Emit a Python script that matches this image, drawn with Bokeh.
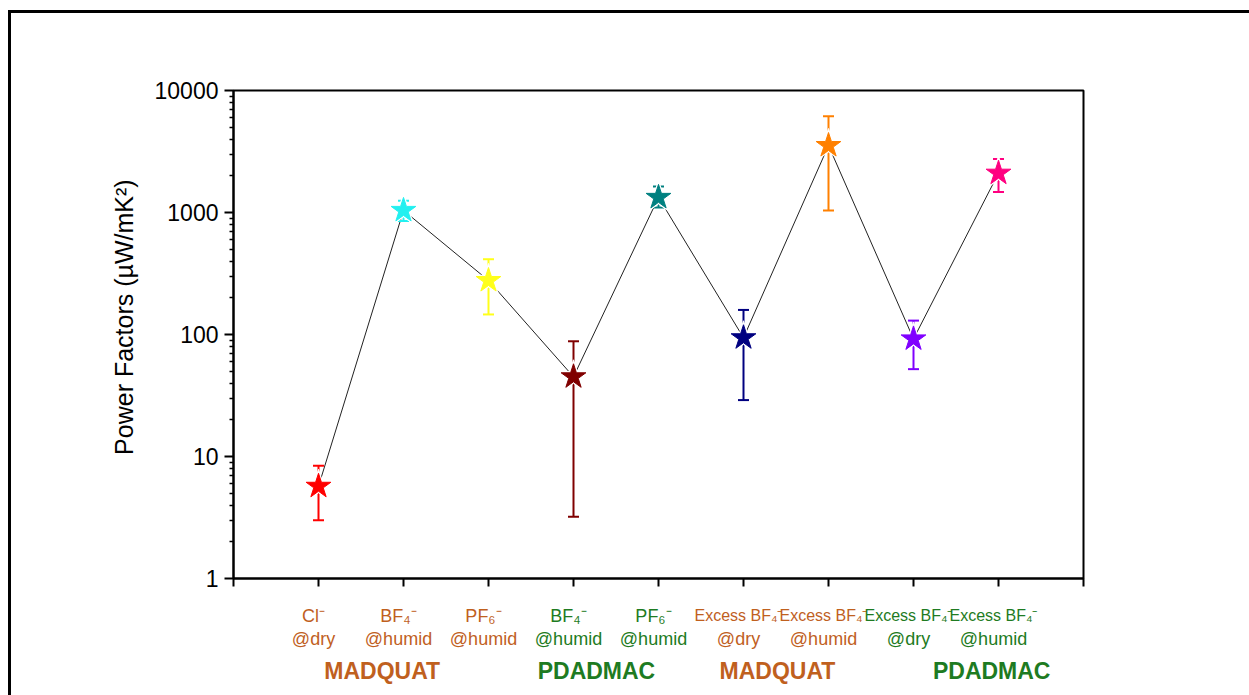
from bokeh.plotting import figure
from bokeh.layouts import column, row
from bokeh.models import FixedTicker, PrintfTickFormatter, ColumnDataSource, Range1d, Div
from bokeh.core.properties import value
from bokeh.embed import file_html
from bokeh.resources import INLINE

# ---------------- data ----------------
x_pos = [1, 2, 3, 4, 5, 6, 7, 8, 9]
label_line1 = ["Cl\u207b", "BF\u2084\u207b", "PF\u2086\u207b", "BF\u2084\u207b", "PF\u2086\u207b",
               "Excess BF\u2084\u207b", "Excess BF\u2084\u207b", "Excess BF\u2084\u207b", "Excess BF\u2084\u207b"]
label_line2 = ["@dry", "@humid", "@humid", "@humid", "@humid",
               "@dry", "@humid", "@dry", "@humid"]
label_group = ["MADQUAT", "MADQUAT", "MADQUAT", "PDADMAC", "PDADMAC",
               "MADQUAT", "MADQUAT", "PDADMAC", "PDADMAC"]
power_factor = [5.7, 1040, 277, 45, 1330, 94, 3540, 92, 2100]
err_upper = [8.4, 1250, 414, 88, 1630, 159, 6150, 130, 2750]
err_lower = [3.0, 850, 146, 3.2, 1100, 29, 1040, 52, 1470]
marker_colors = ["#FF0000", "#22F0F0", "#FFFF1A", "#800000", "#008080",
                 "#000080", "#FF8000", "#8000FF", "#FF0080"]
group_names = ["MADQUAT", "PDADMAC", "MADQUAT", "PDADMAC"]
group_centers = [1.75, 4.27, 6.4, 8.92]
group_colors = {"MADQUAT": "#C0601E", "PDADMAC": "#1E7B22"}
y_ticks = [1, 10, 100, 1000, 10000]
y_minor = [m * 10 ** e for e in range(4) for m in range(2, 10)]

FONT = "Liberation Sans"
W = 1238

p = figure(width=W, height=585, x_range=(0, 10), y_range=(1, 10000),
           y_axis_type="log", output_backend="svg", toolbar_location=None,
           min_border_left=222, min_border_right=166, min_border_top=77,
           min_border_bottom=20)
p.background_fill_color = "white"
p.border_fill_color = "white"
p.xgrid.visible = False
p.ygrid.visible = False
p.outline_line_color = "black"
p.outline_line_width = 2
p.outline_line_alpha = 1

# x axis
p.xaxis.ticker = FixedTicker(ticks=list(range(0, 11)))
p.xaxis.major_label_overrides = {i: "" for i in range(0, 11)}
p.xaxis.major_label_text_font_size = "1px"
p.xaxis.major_label_standoff = 0
p.xaxis.major_tick_out = 8
p.xaxis.major_tick_in = 0
p.xaxis.minor_tick_line_color = None
p.xaxis.axis_line_width = 2
p.xaxis.major_tick_line_width = 2

# y axis
p.yaxis.ticker = FixedTicker(ticks=y_ticks, minor_ticks=y_minor)
p.yaxis.formatter = PrintfTickFormatter(format="%d")
p.yaxis.major_tick_out = 9
p.yaxis.major_tick_in = 0
p.yaxis.minor_tick_out = 4
p.yaxis.minor_tick_in = 0
p.yaxis.axis_line_width = 2
p.yaxis.major_tick_line_width = 2
p.yaxis.minor_tick_line_width = 1.5
p.yaxis.major_label_text_font = FONT
p.yaxis.major_label_text_font_size = "23px"
p.yaxis.major_label_text_color = "black"
p.yaxis.major_label_standoff = 6
p.yaxis.axis_label = "\u00a0" * 5 + "Power Factors (\u00b5W/mK\u00b2)"
p.yaxis.axis_label_text_font = FONT
p.yaxis.axis_label_text_font_size = "25px"
p.yaxis.axis_label_text_font_style = "normal"
p.yaxis.axis_label_text_color = "black"
p.yaxis.axis_label_standoff = 14

src = ColumnDataSource(dict(x=x_pos, y=power_factor, upper=err_upper,
                            lower=err_lower, color=marker_colors))

p.line("x", "y", source=src, line_color="#222222", line_width=1)
p.segment(x0="x", y0="lower", x1="x", y1="upper", line_color="color",
          line_width=2, source=src)
p.scatter("x", "upper", marker="dash", size=11, line_color="color",
          line_width=2, source=src)
p.scatter("x", "lower", marker="dash", size=11, line_color="color",
          line_width=2, source=src)
p.scatter("x", "y", marker="star", size=34, fill_color="white",
          line_color="white", source=src)
p.scatter("x", "y", marker="star", size=26, fill_color="color",
          line_color="color", source=src)

# ---------------- category labels strip ----------------
p2 = figure(width=W, height=97, x_range=p.x_range, y_range=Range1d(0, 97),
            output_backend="svg", toolbar_location=None,
            x_axis_location=None, y_axis_location=None,
            min_border_left=222, min_border_right=166, min_border_top=0,
            min_border_bottom=0)
p2.xgrid.visible = False
p2.ygrid.visible = False
p2.outline_line_color = None
p2.background_fill_color = "white"
p2.border_fill_color = "white"

lab_colors = [group_colors[g] for g in label_group]
short_idx = [i for i, t in enumerate(label_line1) if not t.startswith("Excess")]
long_idx = [i for i, t in enumerate(label_line1) if t.startswith("Excess")]

for idx, fs in ((short_idx, "18px"), (long_idx, "16px")):
    s = ColumnDataSource(dict(x=[x_pos[i] for i in idx],
                              t=[label_line1[i] for i in idx],
                              c=[lab_colors[i] for i in idx],
                              y=[80] * len(idx)))
    p2.text(x="x", y="y", text="t", text_color="c", source=s,
            text_font=value(FONT), text_font_size=fs, x_offset=-5,
            text_align="center", text_baseline="middle")

lab_src = ColumnDataSource(dict(x=x_pos, l2=label_line2, c=lab_colors,
                                y2=[57] * len(x_pos)))
p2.text(x="x", y="y2", text="l2", text_color="c", source=lab_src,
        text_font=value(FONT), text_font_size="18px", x_offset=-5,
        text_align="center", text_baseline="middle")
grp_src = ColumnDataSource(dict(x=group_centers, t=group_names,
                                c=[group_colors[g] for g in group_names],
                                y=[25] * len(group_names)))
p2.text(x="x", y="y", text="t", text_color="c", source=grp_src,
        text_font=value(FONT), text_font_size="23px", text_font_style="bold",
        text_align="center", text_baseline="middle")

# page frame: black top and left rules
top_rule = Div(text="", width=W + 3, height=3, margin=(10, 0, 0, 8),
               styles={"background-color": "black"})
left_rule = Div(text="", width=3, height=585 + 97, margin=(0, 0, 0, 8),
                styles={"background-color": "black"})
layout = column(top_rule, row(left_rule, column(p, p2, spacing=0), spacing=0),
                spacing=0)

open("out.html", "w").write(file_html(layout, INLINE))
